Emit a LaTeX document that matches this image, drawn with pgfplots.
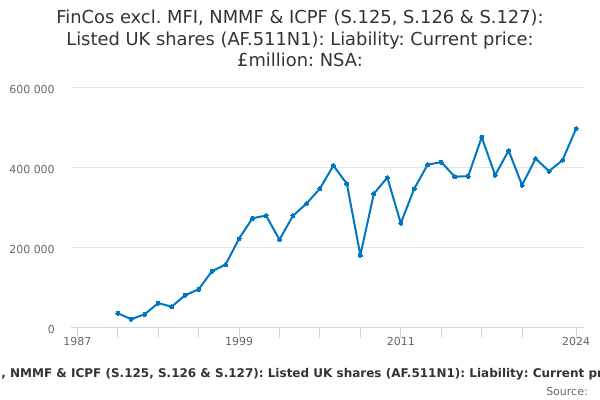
\documentclass[border=0pt]{standalone}
\usepackage{pgfplots}
\pgfplotsset{compat=1.18}
\usepackage{fontspec}
\setmainfont{DejaVu Sans}
\frenchspacing
\definecolor{titlec}{HTML}{333333}
\definecolor{labc}{HTML}{666666}
\definecolor{gridc}{HTML}{E6E6E6}
\definecolor{axisc}{HTML}{CCD6EB}
\definecolor{linec}{HTML}{0077C0}
\pgfplotstableread{
year value
1990 35500
1991 21000
1992 33000
1993 61000
1994 52000
1995 80500
1996 95500
1997 141000
1998 157000
1999 222000
2000 273000
2001 279500
2002 219500
2003 279000
2004 309500
2005 347000
2006 404500
2007 359000
2008 180500
2009 334000
2010 374500
2011 260500
2012 347000
2013 407000
2014 413000
2015 377000
2016 377500
2017 475500
2018 380500
2019 442000
2020 355500
2021 422000
2022 390500
2023 418000
2024 496000
}\datatable
\begin{document}
\begin{tikzpicture}
\clip (0pt,0pt) rectangle (450pt,300pt);
\begin{axis}[
  at={(53.475pt,54.375pt)}, anchor=south west, scale only axis,
  width=384.5pt, height=180.15pt,
  xmin=1986.555, xmax=2024.59, ymin=0, ymax=600000,
  axis x line*=bottom, axis y line*=left,
  y axis line style={draw=none},
  x axis line style={draw=axisc, line width=0.75pt, -},
  xtick={1987,1990,1993,1996,1999,2002,2005,2008,2011,2014,2017,2020,2024},
  xticklabels={1987,,,,1999,,,,2011,,,,2024},
  ytick={0,200000,400000,600000},
  yticklabels={0,200 000,400 000,600 000},
  scaled y ticks=false,
  tick align=outside,
  major tick length=7.5pt,
  x tick style={draw=axisc, line width=0.75pt},
  y tick style={draw=none},
  ymajorgrids, grid style={draw=gridc, line width=0.75pt},
  ticklabel style={font=\fontsize{8.25}{10}\selectfont, text=labc},
  xticklabel style={inner sep=0pt, anchor=north},
  yticklabel style={inner sep=0pt, anchor=east, xshift=-4.7pt, yshift=-1.5pt},
  clip=false,
]
\addplot[linec, line width=1.5pt, line join=round, mark=*, mark size=1.5pt,
  mark options={fill=linec, draw=linec, line width=0pt}] table[x=year, y=value] {\datatable};
\end{axis}
\node[anchor=base, inner sep=0pt, text=titlec, font=\fontsize{13.4}{16}\selectfont] at (225pt,282pt) {FinCos excl. MFI, NMMF \& ICPF (S.125, S.126 \& S.127):};
\node[anchor=base, inner sep=0pt, text=titlec, font=\fontsize{13.4}{16}\selectfont] at (225pt,265.9pt) {Listed UK shares (AF.511N1): Liability: Current price:};
\node[anchor=base, inner sep=0pt, text=titlec, font=\fontsize{13.4}{16}\selectfont] at (225pt,249.8pt) {£million: NSA:};
\node[anchor=base west, inner sep=0pt, text=titlec, font=\bfseries\fontsize{9.0}{11}\selectfont] at (0.9pt,17pt) {, NMMF \& ICPF (S.125, S.126 \& S.127): Listed UK shares (AF.511N1): Liability: Current price: £million: NSA:};
\node[anchor=base east, inner sep=0pt, text=titlec, font=\bfseries\fontsize{9.0}{11}\selectfont] at (0.9pt,17pt) {FinCos excl. MFI};
\node[anchor=base east, inner sep=0pt, text=labc, font=\fontsize{8.25}{10}\selectfont] at (441pt,3.75pt) {Source:};
\end{tikzpicture}
\end{document}
